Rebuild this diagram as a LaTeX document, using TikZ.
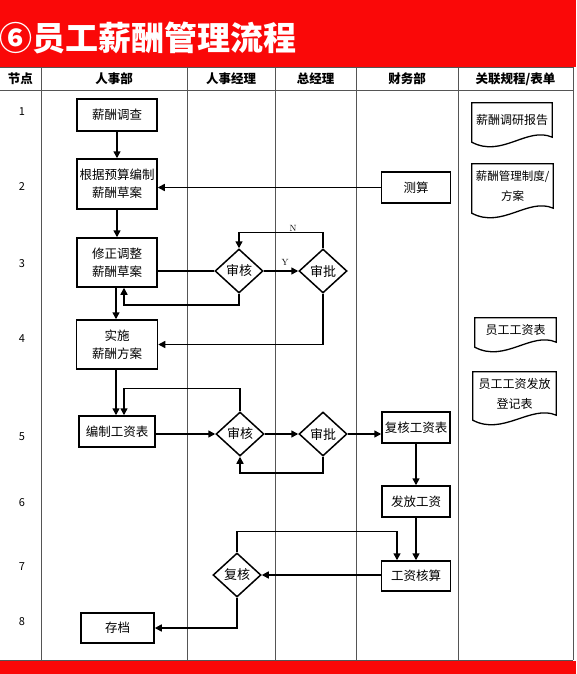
\documentclass[tikz,border=0pt]{standalone}
\usepackage{fontspec}
\newfontfamily\cjk{Noto Sans CJK SC}
\usetikzlibrary{arrows.meta,shapes.geometric,calc}
\definecolor{hdr}{RGB}{250,8,8}
\definecolor{gridc}{RGB}{85,85,85}
\newcommand\docshape[1]{\draw[line width=1.3pt] (#1.north west) -- (#1.north east) -- (#1.south east)
  .. controls ($(#1.south east)+(-25,-11)$) and ($(#1.south west)+(30,21)$) .. ($(#1.south west)+(0,5)$) -- cycle;}
\begin{document}
\begin{tikzpicture}[x=1pt,y=-1pt,
  font=\cjk\fontsize{12.5}{18}\selectfont,
  box/.style={draw=black, line width=1.5pt, fill=white, inner sep=0pt, align=center},
  dia/.style={draw=black, diamond, line width=1.5pt, fill=white, inner sep=0pt, aspect=1.1,
              minimum width=48pt, minimum height=44pt, font=\cjk\fontsize{13}{15}\selectfont},
  arr/.style={line width=1.5pt, -{Triangle[length=7pt,width=7pt]}},
  ln/.style={line width=1.5pt},
  doc/.style={inner sep=0pt, align=center, font=\cjk\fontsize{12}{20}\selectfont},
  gridl/.style={draw=gridc, line width=0.9pt},
  hd/.style={font=\cjk\bfseries\fontsize{12.5}{15}\selectfont},
  num/.style={font=\cjk\fontsize{11}{13}\selectfont},
  yn/.style={font=\rmfamily\fontsize{9}{10}\selectfont, inner sep=0pt}]
\useasboundingbox (0,0) rectangle (576,674);
% red bands
\fill[hdr] (0,0) rectangle (576,67);
\fill[hdr] (0,661) rectangle (576,674);
\node[anchor=west, text=white, inner sep=0pt, font=\cjk\bfseries\fontsize{33}{36}\selectfont] (title) at (-1,38) {⑥员工薪酬管理流程};
% grid
\draw[gridl] (0,67.5) -- (573,67.5);
\draw[gridl] (0,90) -- (573,90);
\draw[gridl] (0,660) -- (573,660);
\foreach \xx in {41,187,275,356,458,573}{\draw[gridl] (\xx,67.5) -- (\xx,660);}
% header texts
\node[hd] (h0) at (20.5,79) {节点};
\node[hd] (h1) at (114,79) {人事部};
\node[hd] (h2) at (231,79) {人事经理};
\node[hd] (h3) at (315.5,79) {总经理};
\node[hd] (h4) at (407,79) {财务部};
\node[hd] (h5) at (515.5,79) {关联规程/表单};
% row numbers
\node[num] (n1) at (22,112) {1};
\node[num] (n2) at (22,187) {2};
\node[num] (n3) at (22,264) {3};
\node[num] (n4) at (22,339) {4};
\node[num] (n5) at (22,437) {5};
\node[num] (n6) at (22,503) {6};
\node[num] (n7) at (22,567) {7};
\node[num] (n8) at (22,622) {8};
% boxes
\node[box, minimum width=80pt, minimum height=32pt] (b1) at (117,115) {薪酬调查};
\node[box, minimum width=80pt, minimum height=50pt] (b2) at (117,184) {根据预算编制\\薪酬草案};
\node[box, minimum width=80pt, minimum height=49pt] (b3) at (117,262.5) {修正调整\\薪酬草案};
\node[box, minimum width=81pt, minimum height=49pt] (b4) at (117,344.5) {实施\\薪酬方案};
\node[box, minimum width=76pt, minimum height=31pt] (b5) at (117,431.5) {编制工资表};
\node[box, minimum width=73pt, minimum height=30pt] (b8) at (117.5,628) {存档};
\node[box, minimum width=69pt, minimum height=31pt] (c2) at (416,187.5) {测算};
\node[box, minimum width=68pt, minimum height=31pt] (c5) at (416,427.5) {复核工资表};
\node[box, minimum width=68pt, minimum height=31pt] (c6) at (416,501.5) {发放工资};
\node[box, minimum width=69pt, minimum height=30pt] (c7) at (416,576) {工资核算};
% diamonds
\node[dia] (d3a) at (239,271) {审核};
\node[dia] (d3b) at (323,271) {审批};
\node[dia] (d5a) at (240,434) {审核};
\node[dia] (d5b) at (323,434) {审批};
\node[dia] (d7) at (237,575) {复核};
% documents
\node[doc, minimum width=80pt, minimum height=34pt] (e1) at (512,120) {薪酬调研报告};
\node[doc, minimum width=81pt, minimum height=44pt, font=\cjk\fontsize{11.5}{20}\selectfont] (e2) at (512.5,186) {薪酬管理制度/\\方案};
\node[doc, minimum width=81pt, minimum height=24pt] (e3) at (515.5,330) {员工工资表};
\node[doc, minimum width=83pt, minimum height=43pt] (e4) at (514.5,393.5) {员工工资发放\\登记表};
\docshape{e1}
\docshape{e2}
\docshape{e3}
\docshape{e4}
% connectors
\draw[arr] (b1) -- (b2);
\draw[arr] (c2.west) -- (c2.west -| b2.east);
\draw[arr] (b2) -- (b3);
\draw[ln] (b3.east |- d3a.west) -- (d3a.west);
\draw[arr] (d3a.south) -- ++(0,11) -| ([xshift=7pt]b3.south);
\draw[arr] ([xshift=-1pt]b3.south) -- ([xshift=-1pt]b4.north);
\draw[arr] (d3a.east) -- (d3b.west);
\node[yn] (lY) at (285,262) {Y};
\draw[arr] (d3b.north) -- ++(0,-16) -| (d3a.north);
\node[yn] (lN) at (293,228) {N};
\draw[arr] (d3b.south) |- (b4.east);
\draw[arr] ([xshift=-1pt]b4.south) -- ([xshift=-1pt]b5.north);
\draw[arr] (d5a.north) -- ++(0,-23) -| ([xshift=7pt]b5.north);
\draw[arr] (b5.east |- d5a.west) -- (d5a.west);
\draw[arr] (d5a.east) -- (d5b.west);
\draw[arr] (d5b.east) -- (d5b.east -| c5.west);
\draw[arr] (d5b.south) -- ++(0,16) -| (d5a.south);
\draw[arr] (c5) -- (c6);
\draw[arr] (c6) -- (c7);
\draw[arr] (d7.north) -- ++(0,-21) -| ([xshift=-19pt]c7.north);
\draw[arr] (c7.west |- d7.east) -- (d7.east);
\draw[arr] (d7.south) |- (b8.east);
\end{tikzpicture}
\end{document}
